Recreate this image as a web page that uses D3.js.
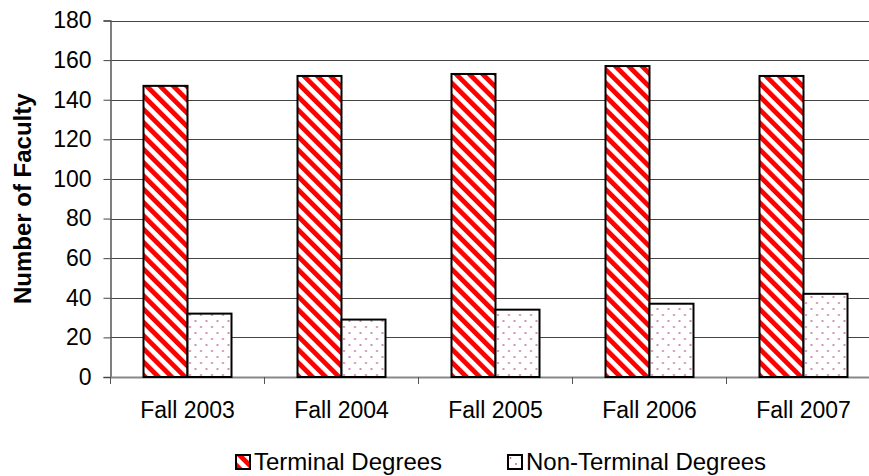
<!DOCTYPE html>
<html>
<head>
<meta charset="utf-8">
<script src="https://cdn.jsdelivr.net/npm/d3@7"></script>
<style>
  body { margin: 0; background: #fff; }
  svg text { font-family: Arial, "Liberation Sans", sans-serif; fill: #000; }
</style>
</head>
<body>
<div id="chart"></div>
<script>
// Chart data
const years = ['Fall 2003', 'Fall 2004', 'Fall 2005', 'Fall 2006', 'Fall 2007'];
const seriesNames = ['Terminal Degrees', 'Non-Terminal Degrees'];
const terminal = [147, 152, 153, 157, 152];
const nonTerminal = [32, 29, 34, 37, 42];
const yTicks = [0, 20, 40, 60, 80, 100, 120, 140, 160, 180];

const width = 869, height = 476;
const plotLeft = 110.5, catW = 154, plotTop = 20.5, plotBottom = 377;

const svg = d3.select('#chart').append('svg')
    .attr('width', width)
    .attr('height', height);

// Fill patterns
const defs = svg.append('defs');
const hatch = defs.append('pattern')
    .attr('id', 'hatch')
    .attr('patternUnits', 'userSpaceOnUse')
    .attr('width', 9.4).attr('height', 10)
    .attr('patternTransform', 'rotate(-45)');
hatch.append('rect').attr('width', 9.4).attr('height', 10).attr('fill', '#fff');
hatch.append('rect').attr('width', 4.8).attr('height', 10).attr('fill', '#ff0000');

const dots = defs.append('pattern')
    .attr('id', 'dots')
    .attr('patternUnits', 'userSpaceOnUse')
    .attr('width', 11).attr('height', 12);
dots.append('rect').attr('width', 11).attr('height', 12).attr('fill', '#fff');
dots.append('circle').attr('cx', 2.5).attr('cy', 3).attr('r', 0.9).attr('fill', '#b8608e');
dots.append('circle').attr('cx', 8).attr('cy', 9).attr('r', 0.9).attr('fill', '#b8608e');

// Scales
const x0 = d3.scaleBand()
    .domain(years)
    .range([plotLeft, plotLeft + catW * years.length]);

const barW = catW / 3.5;
const x1 = d3.scaleBand()
    .domain(seriesNames)
    .range([(catW - 2 * barW) / 2, (catW + 2 * barW) / 2]);

const y = d3.scaleLinear()
    .domain([0, 180])
    .range([plotBottom, plotTop]);

// Gridlines
svg.append('g')
    .selectAll('line')
    .data(yTicks.filter(d => d > 0))
    .enter()
    .append('line')
    .attr('x1', plotLeft).attr('x2', width)
    .attr('y1', d => Math.round(y(d)) + 0.5)
    .attr('y2', d => Math.round(y(d)) + 0.5)
    .attr('stroke', '#444')
    .attr('stroke-width', 1);

// Y axis
const yAxis = svg.append('g')
    .attr('transform', `translate(${plotLeft},0)`)
    .call(d3.axisLeft(y).tickValues(yTicks).tickSize(7).tickPadding(12));
yAxis.select('.domain').attr('stroke', '#555').attr('stroke-width', 1.5);
yAxis.selectAll('.tick line').attr('stroke', '#444');
yAxis.selectAll('.tick text')
    .style('font-size', '23px')
    .attr('fill', '#000');

// X axis
const xAxis = svg.append('g')
    .attr('transform', `translate(0,${plotBottom})`)
    .call(d3.axisBottom(x0).tickSize(0).tickPadding(0));
xAxis.select('.domain').attr('stroke', '#888').attr('stroke-width', 2);
xAxis.selectAll('.tick text')
    .attr('y', 41)
    .attr('dy', 0)
    .style('font-size', '23px')
    .attr('fill', '#000');

// Category separator ticks
svg.append('g')
    .selectAll('line')
    .data(d3.range(years.length + 1))
    .enter()
    .append('line')
    .attr('x1', i => plotLeft + i * catW)
    .attr('x2', i => plotLeft + i * catW)
    .attr('y1', plotBottom)
    .attr('y2', plotBottom + 7)
    .attr('stroke', '#555');

// Bars
const rows = years.map((yr, i) => ({ year: yr, values: [terminal[i], nonTerminal[i]] }));
const group = svg.append('g')
    .selectAll('g')
    .data(rows)
    .enter()
    .append('g')
    .attr('transform', d => `translate(${x0(d.year)},0)`);

group.selectAll('rect')
    .data(d => d.values.map((v, j) => ({ key: seriesNames[j], value: v })))
    .enter()
    .append('rect')
    .attr('x', d => x1(d.key))
    .attr('width', x1.bandwidth())
    .attr('y', d => y(d.value))
    .attr('height', d => plotBottom - y(d.value))
    .attr('fill', d => d.key === seriesNames[0] ? 'url(#hatch)' : 'url(#dots)')
    .attr('stroke', '#000')
    .attr('stroke-width', 2);

// Y axis title
svg.append('text')
    .attr('transform', 'rotate(-90)')
    .attr('x', -(plotTop + plotBottom) / 2)
    .attr('y', 31)
    .attr('text-anchor', 'middle')
    .style('font-size', '24px')
    .style('font-weight', 'bold')
    .text('Number of Faculty');

// Legend
const legendPos = [236, 508];
const legend = svg.append('g')
    .selectAll('g')
    .data(seriesNames)
    .enter()
    .append('g')
    .attr('transform', (d, i) => `translate(${legendPos[i]},455)`);

legend.append('rect')
    .attr('width', 14).attr('height', 14)
    .attr('fill', (d, i) => i === 0 ? 'url(#hatch)' : 'url(#dots)')
    .attr('stroke', '#000')
    .attr('stroke-width', 2);

legend.append('text')
    .attr('x', 18)
    .attr('y', 15)
    .style('font-size', '24px')
    .text(d => d);
</script>
</body>
</html>
